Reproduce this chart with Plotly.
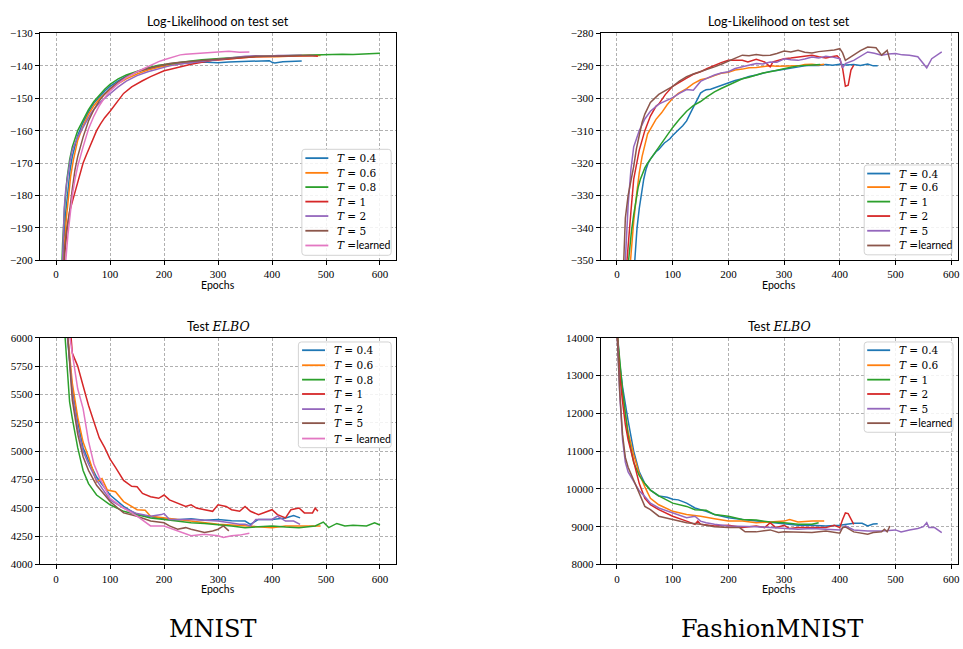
import plotly.graph_objects as go

# ---------------- DATA ----------------
mnist_labels = ["<i>T</i> = 0.4", "<i>T</i> = 0.6", "<i>T</i> = 0.8", "<i>T</i> = 1",
                "<i>T</i> = 2", "<i>T</i> = 5"]
fashion_labels = ["<i>T</i> = 0.4", "<i>T</i> = 0.6", "<i>T</i> = 1", "<i>T</i> = 2",
                  "<i>T</i> = 5"]
learned_a = "<i>T</i> =<span style='font-family:Lato'>learned</span>"
learned_b = "<i>T</i> = <span style='font-family:Lato'>learned</span>"
colors = ["#1f77b4", "#ff7f0e", "#2ca02c", "#d62728", "#9467bd", "#8c564b", "#e377c2"]

x_ticks = [0, 100, 200, 300, 400, 500, 600]
ll_mnist_ticks = [-200, -190, -180, -170, -160, -150, -140, -130]
ll_fashion_ticks = [-350, -340, -330, -320, -310, -300, -290, -280]
elbo_mnist_ticks = [4000, 4250, 4500, 4750, 5000, 5250, 5500, 5750, 6000]
elbo_fashion_ticks = [8000, 9000, 10000, 11000, 12000, 13000, 14000]

# MNIST log-likelihood
ll_m_x_04 = [10,14,18,22,26,30,40,50,60,70,80,90,100,115,130,150,170,190,210,230,250,270,290,300,320,340,360,380,395,400,405,420,440,455]
ll_m_y_04 = [-215,-195,-185,-178,-172,-168,-161.5,-157.5,-154.2,-151.5,-149.5,-147.8,-146.3,-144.6,-143.2,-141.8,-140.9,-140.1,-139.6,-139.2,-139,-138.8,-138.9,-139,-138.8,-138.7,-138.5,-138.6,-138.4,-138.9,-139.1,-138.7,-138.6,-138.5]
ll_m_x_06 = [11,15,19,23,27,32,40,50,60,70,80,90,100,115,130,150,170,190,210,230,250,270,290,310,330,350,370,390,410,430,450,470,490]
ll_m_y_06 = [-215,-197,-187,-180,-174,-169,-163,-158.5,-155,-152.3,-150.2,-148.7,-147.3,-145.5,-144,-142.5,-141.3,-140.4,-139.8,-139.2,-138.8,-138.5,-138.2,-137.9,-137.6,-137.4,-137.2,-137.1,-137.2,-137,-136.9,-136.9,-136.8]
ll_m_x_08 = [8,12,16,20,25,30,40,50,60,70,80,90,100,115,130,150,170,190,210,230,250,270,290,310,330,350,370,390,410,430,450,470,490,510,530,550,570,590,600]
ll_m_y_08 = [-215,-195,-183,-175,-169,-165,-160,-156.5,-153.5,-151,-149,-147.2,-145.7,-144,-142.8,-141.6,-140.6,-139.8,-139.3,-138.8,-138.5,-138.1,-137.8,-137.6,-137.4,-137.2,-137.1,-137,-136.9,-136.8,-136.7,-136.6,-136.5,-136.6,-136.4,-136.5,-136.3,-136.2,-136.1]
ll_m_x_1 = [12,16,20,25,30,35,42,50,56,62,68,75,82,90,100,112,125,140,150,160,175,190,200,210,220,230,240,250,270,290,310,330,350,370,390,410,430,450,470,485]
ll_m_y_1 = [-215,-198,-191,-185,-182,-179,-175,-170,-167.5,-165,-162.5,-160,-158,-156,-154,-151.2,-148.5,-146.5,-145.5,-144.6,-143.3,-142.2,-141.5,-141.1,-140.7,-140.1,-139.7,-139.5,-138.9,-138.3,-138,-137.6,-137.4,-137.2,-137.1,-137,-137.1,-137,-136.8,-137]
ll_m_x_2 = [9,12,15,18,22,26,30,40,50,60,65,70,80,90,100,115,130,150,170,190,210,230,250,270,290,310,330,350,370,390,410,430,455]
ll_m_y_2 = [-215,-195,-184,-178,-173,-169,-166,-162,-159,-156,-154.5,-153.5,-151.5,-150,-148.5,-146.5,-144.7,-143,-141.8,-140.8,-140,-139.4,-139,-138.5,-138,-137.6,-137.3,-137,-136.9,-137,-136.8,-136.7,-136.7]
ll_m_x_5 = [12,16,20,25,30,35,40,50,60,70,80,90,100,115,130,150,170,190,210,230,250,270,290,310,330,350,370,390,410,430,450,480]
ll_m_y_5 = [-215,-196,-190,-185,-178,-172,-168,-162,-157,-153.5,-150.8,-148.7,-147,-145,-143.4,-141.8,-140.8,-140,-139.3,-138.9,-138.6,-138.3,-138,-137.7,-137.4,-137.2,-137,-137,-136.9,-136.9,-136.8,-136.8]
ll_m_x_l = [14,18,22,26,30,35,40,50,60,70,80,90,100,115,130,150,170,190,200,210,220,230,240,260,280,300,320,340,358]
ll_m_y_l = [-215,-200,-192,-185,-180,-175,-171,-165,-159.5,-155.5,-152.3,-149.8,-147.8,-145.5,-143.6,-141.8,-140.2,-138.7,-138.1,-137.6,-137.2,-136.6,-136.4,-136.2,-135.9,-135.7,-135.5,-135.8,-135.7]

# FashionMNIST log-likelihood
ll_f_x_04 = [30,33,36,40,44,48,52,56,60,65,70,75,80,85,90,95,100,105,110,118,125,132,140,145,150,155,160,168,175,187,200,212,225,237,250,262,275,287,300,312,325,337,350,362,375,387,400,412,425,437,450,460,468]
ll_f_y_04 = [-355,-347,-340,-334,-329,-325,-322,-320,-318.8,-317.5,-316.5,-315.8,-314.8,-313.8,-313.2,-312.5,-311.5,-310.8,-309.8,-308.5,-307,-304.5,-301.8,-300,-298.4,-297.8,-297.4,-297.2,-296.8,-296.1,-295.3,-294.5,-294,-293.3,-292.8,-292.2,-291.7,-291.4,-291,-290.6,-290.3,-290,-289.8,-289.9,-289.6,-289.8,-289.5,-289.7,-289.6,-289.9,-289.4,-290,-290]
ll_f_x_06 = [22,24,30,35,40,45,50,55,60,65,70,80,90,100,110,125,137,150,162,175,187,200,212,225,237,250,262,275,287,300,312,325,337,350,362,372]
ll_f_y_06 = [-355,-350,-338,-330,-323,-318,-314,-311,-309.5,-308,-306.5,-304.5,-302,-300,-298.5,-297,-295.5,-294.3,-293.8,-293,-292.3,-292,-291.3,-291,-290.6,-290.5,-290.2,-290,-290.1,-290,-289.9,-290,-289.6,-289.5,-289.7,-289.5]
ll_f_x_1 = [18,22,26,30,34,38,42,46,50,55,60,67,75,82,90,100,112,125,137,150,162,175,187,200,212,225,237,250,262,275,287,300,312,325,337,350,365]
ll_f_y_1 = [-355,-347,-341,-336,-331,-327.5,-325,-323,-321.5,-320,-318.8,-317,-315,-313.2,-311.3,-309,-306.5,-304,-302.3,-301,-299.5,-298,-297,-296,-295,-294,-293.5,-292.8,-292.2,-291.8,-291.3,-290.8,-290.4,-290,-289.9,-289.8,-289.6]
ll_f_x_2 = [16,18,25,30,40,50,60,70,75,87,100,112,125,137,150,162,175,187,200,212,225,235,250,265,275,280,290,300,312,325,337,350,362,375,385,395,400,405,410,415,420,425]
ll_f_y_2 = [-360,-350,-335,-325,-316,-310,-305.5,-302.5,-301.8,-298.8,-296.3,-295,-293.8,-292.6,-291.8,-290.8,-289.8,-289,-288.3,-288.2,-288.3,-288.8,-288,-288.8,-290.3,-288.8,-288.3,-287.8,-287.6,-287.3,-287.1,-286.7,-287.2,-287.6,-287.2,-286.9,-287.8,-290.8,-296.3,-296,-291.3,-289.8]
ll_f_x_5 = [13,15,20,25,30,40,50,60,75,87,100,112,125,137,150,162,175,187,200,212,225,237,250,262,275,287,300,312,325,337,350,362,375,387,400,405,410,425,437,450,462,475,487,500,512,525,540,550,556,565,575,583]
ll_f_y_5 = [-360,-350,-333,-322,-315,-310,-306.4,-304,-301.8,-300.8,-299.8,-298.5,-297.3,-297.5,-294.8,-293.8,-292.8,-292.2,-291.8,-290.8,-290.3,-289.8,-289.3,-289.4,-288.8,-288.9,-287.8,-288.1,-288.3,-287.9,-287.3,-287.6,-287,-287.3,-287.8,-290.6,-289.3,-288.3,-287,-285.7,-286.1,-286.7,-286.3,-286.2,-286.6,-286.7,-287.2,-289.3,-290.6,-287.8,-286.6,-285.7]
ll_f_x_l = [10,12,15,20,25,30,35,40,45,50,60,75,87,100,112,125,137,150,162,175,187,200,212,225,237,250,262,275,287,300,312,325,337,350,362,375,390,400,405,410,418,425,437,450,465,475,485,490]
ll_f_y_l = [-360,-350,-337,-330,-326,-321,-315.5,-311,-307.5,-304.9,-301.3,-298.8,-297.6,-296.3,-294.7,-293.3,-292.5,-291.8,-291,-290.3,-289.5,-288.6,-287.6,-286.7,-286.9,-286.5,-286.8,-286.7,-286.2,-285.4,-285.7,-285.2,-285.8,-286,-285.6,-285.4,-285.1,-284.7,-286,-288.3,-287.4,-286.7,-285.3,-284.2,-284.4,-286.7,-285.2,-288.3]

# MNIST test ELBO
el_m_x_04 = [20,30,40,50,60,75,100,125,150,175,200,225,250,275,300,325,350,360,375,400,425,440,452]
el_m_y_04 = [6050,5548,5260,5030,4915,4771,4613,4512,4440,4420,4403,4395,4403,4390,4397,4385,4383,4354,4397,4397,4411,4431,4411]
el_m_x_06 = [21,30,40,50,60,75,85,95,110,125,150,165,175,200,225,250,275,300,325,350,375,400,425,450,470,490]
el_m_y_06 = [6050,5600,5300,5080,4950,4728,4757,4656,4642,4555,4483,4478,4426,4411,4395,4383,4370,4354,4348,4340,4335,4325,4340,4340,4335,4340]
el_m_x_08 = [16,25,30,40,50,60,75,100,125,150,175,200,225,250,275,300,325,350,375,400,425,450,480,495,505,520,535,550,575,590,600]
el_m_y_08 = [6050,5433,5289,5030,4829,4713,4613,4527,4469,4440,4411,4397,4380,4368,4362,4354,4340,4325,4335,4340,4330,4325,4340,4374,4325,4362,4340,4345,4340,4368,4348]
el_m_x_1 = [27,30,35,40,50,60,70,80,90,100,110,125,140,150,160,175,190,200,210,225,240,250,260,275,290,300,315,325,340,350,360,375,390,400,410,425,435,450,460,475,480,485]
el_m_y_1 = [6050,5865,5807,5750,5577,5404,5260,5116,5030,4929,4857,4742,4690,4685,4627,4598,4584,4613,4570,4541,4512,4527,4498,4483,4469,4527,4512,4483,4469,4512,4469,4440,4469,4483,4440,4411,4483,4498,4455,4455,4498,4469]
el_m_x_2 = [21,30,40,50,60,75,100,125,150,175,195,200,210,250,300,340,350,360,370,400,410,425,440,452]
el_m_y_2 = [6050,5500,5200,5000,4886,4742,4570,4498,4449,4426,4440,4449,4397,4397,4383,4354,4354,4340,4397,4397,4426,4383,4383,4354]
el_m_x_5 = [21,30,40,50,60,75,100,125,150,175,200,210,225,240,250,275,290,300,310,320]
el_m_y_5 = [6050,5450,5150,4950,4830,4699,4555,4455,4426,4383,4368,4340,4311,4325,4311,4282,4296,4311,4340,4296]
el_m_x_l = [24,30,35,40,50,55,60,70,80,100,125,150,175,200,225,250,275,300,310,325,340,358]
el_m_y_l = [6050,5850,5700,5550,5375,5232,5088,4886,4771,4584,4498,4426,4340,4340,4296,4253,4267,4253,4239,4253,4259,4276]

# FashionMNIST test ELBO
el_f_x_04 = [0,5,10,15,20,30,40,50,60,75,90,100,110,125,140,150,160,175,190,200,225,250,275,300,325,350,375,400,425,440,450,460,468]
el_f_y_04 = [14200,13300,12700,12200,11800,11000,10450,10141,9968,9813,9779,9727,9710,9623,9494,9450,9407,9321,9261,9235,9191,9148,9105,9062,9036,9036,9019,9036,9088,9088,9019,9071,9079]
el_f_x_06 = [0,5,10,20,30,40,50,60,75,100,125,150,175,200,225,250,275,300,310,325,350,372]
el_f_y_06 = [14200,13200,12500,11500,10900,10400,10055,9753,9580,9407,9321,9278,9209,9148,9148,9105,9122,9148,9191,9122,9148,9148]
el_f_x_1 = [0,5,10,20,25,30,40,50,60,75,100,125,140,150,160,175,200,225,250,275,300,325,350,362]
el_f_y_1 = [14200,13300,12600,11400,11000,10700,10350,10141,9968,9813,9623,9537,9450,9433,9433,9321,9278,9191,9174,9122,9105,9062,9062,9105]
el_f_x_2 = [0,5,10,15,20,25,30,40,50,60,75,100,125,140,145,150,175,200,225,250,265,275,285,300,310,325,350,375,390,400,405,410,415,420,425]
el_f_y_2 = [14200,13000,12300,11700,11300,11000,10659,10141,9753,9580,9450,9278,9148,9062,9148,9062,9019,9036,8976,9019,8976,9105,8976,9036,8950,8976,8976,8976,9036,8976,9191,9364,9347,9191,9062]
el_f_x_5 = [0,5,10,15,20,30,40,50,60,75,100,125,140,150,160,175,200,225,250,275,300,325,350,375,400,410,425,450,475,500,510,525,540,550,556,560,570,583]
el_f_y_5 = [14200,12500,11300,10700,10450,10200,9950,9796,9623,9494,9364,9235,9278,9148,9105,9062,9019,9019,9001,8976,8950,8932,8950,8932,8915,9019,8915,8889,8889,8915,8863,8915,8950,9001,9105,8976,8976,8846]
el_f_x_l = [0,5,10,15,20,30,40,50,60,75,100,125,150,175,200,220,230,250,275,290,300,325,350,375,400,405,410,425,450,460,475,480,485,490]
el_f_y_l = [14200,12558,11436,10832,10573,10227,9882,9537,9450,9278,9191,9105,9062,9001,8976,8976,8863,8863,8915,8846,8863,8863,8846,8889,8829,8976,8993,8863,8803,8846,8863,8932,8863,9019]

# ---------------- FIGURE ----------------
W, H = 963, 649
SERIF = "DejaVu Serif"
TICKSERIF = "Liberation Serif"
SANS = "Lato"


def px_x(v):
    return v / W


def px_y(v):
    return 1 - v / H


panels = [
    ("x", "y", [
        (ll_m_x_04, ll_m_y_04, mnist_labels[0], colors[0]),
        (ll_m_x_06, ll_m_y_06, mnist_labels[1], colors[1]),
        (ll_m_x_08, ll_m_y_08, mnist_labels[2], colors[2]),
        (ll_m_x_1, ll_m_y_1, mnist_labels[3], colors[3]),
        (ll_m_x_2, ll_m_y_2, mnist_labels[4], colors[4]),
        (ll_m_x_5, ll_m_y_5, mnist_labels[5], colors[5]),
        (ll_m_x_l, ll_m_y_l, learned_a, colors[6]),
    ]),
    ("x2", "y2", [
        (ll_f_x_04, ll_f_y_04, fashion_labels[0], colors[0]),
        (ll_f_x_06, ll_f_y_06, fashion_labels[1], colors[1]),
        (ll_f_x_1, ll_f_y_1, fashion_labels[2], colors[2]),
        (ll_f_x_2, ll_f_y_2, fashion_labels[3], colors[3]),
        (ll_f_x_5, ll_f_y_5, fashion_labels[4], colors[4]),
        (ll_f_x_l, ll_f_y_l, learned_a, colors[5]),
    ]),
    ("x3", "y3", [
        (el_m_x_04, el_m_y_04, mnist_labels[0], colors[0]),
        (el_m_x_06, el_m_y_06, mnist_labels[1], colors[1]),
        (el_m_x_08, el_m_y_08, mnist_labels[2], colors[2]),
        (el_m_x_1, el_m_y_1, mnist_labels[3], colors[3]),
        (el_m_x_2, el_m_y_2, mnist_labels[4], colors[4]),
        (el_m_x_5, el_m_y_5, mnist_labels[5], colors[5]),
        (el_m_x_l, el_m_y_l, learned_b, colors[6]),
    ]),
    ("x4", "y4", [
        (el_f_x_04, el_f_y_04, fashion_labels[0], colors[0]),
        (el_f_x_06, el_f_y_06, fashion_labels[1], colors[1]),
        (el_f_x_1, el_f_y_1, fashion_labels[2], colors[2]),
        (el_f_x_2, el_f_y_2, fashion_labels[3], colors[3]),
        (el_f_x_5, el_f_y_5, fashion_labels[4], colors[4]),
        (el_f_x_l, el_f_y_l, learned_a, colors[5]),
    ]),
]

fig = go.Figure()
for xa, ya, series in panels:
    for xs, ys, name, col in series:
        fig.add_trace(go.Scatter(x=xs, y=ys, name=name, mode="lines",
                                 line=dict(color=col, width=1.5),
                                 xaxis=xa, yaxis=ya, showlegend=False))

# axes boxes in window pixels: left, right, top, bottom
boxes = {
    "1": (40, 397, 28, 259),
    "2": (602, 960, 28, 259),
    "3": (40, 397, 338, 569),
    "4": (602, 960, 338, 569),
}
yranges = {"1": [-200, -130], "2": [-350, -280], "3": [4000, 6000], "4": [8000, 14000]}
xranges = {"1": [-30, 630], "2": [-29.15, 612.15], "3": [-30, 630], "4": [-29.15, 612.15]}
yticks = {"1": ll_mnist_ticks, "2": ll_fashion_ticks, "3": elbo_mnist_ticks, "4": elbo_fashion_ticks}

axis_common = dict(showgrid=True, gridcolor="#b0b0b0", griddash="3px,2px", gridwidth=0.8,
                   showline=True, linecolor="black", linewidth=1, mirror=True,
                   ticks="outside", ticklen=4, tickcolor="black", tickwidth=1,
                   tickfont=dict(family=TICKSERIF, size=11, color="black"), zeroline=False,
                   ticklabeloverflow="allow")

layout = {}
for k, (l, r, t, b) in boxes.items():
    xname = "xaxis" if k == "1" else f"xaxis{k}"
    yname = "yaxis" if k == "1" else f"yaxis{k}"
    xid = "x" if k == "1" else f"x{k}"
    yid = "y" if k == "1" else f"y{k}"
    layout[xname] = dict(domain=[px_x(l), px_x(r)], range=xranges[k], anchor=yid,
                         tickmode="array", tickvals=x_ticks, **axis_common)
    layout[yname] = dict(domain=[px_y(b), px_y(t)], range=yranges[k], anchor=xid,
                         tickmode="array", tickvals=yticks[k], tickformat="d", **axis_common)

# ---- hand-built legends (box, swatch, text), in window pixels ----
legends = [
    ((302.5, 392, 146, 254), 306, 329, 336, [155, 170, 184.5, 199.3, 214, 229, 244], 0),
    ((866, 954, 162, 253.5), 869, 892, 899, [170.7, 184.5, 199.3, 214, 229, 244], 1),
    ((299, 392, 342.3, 450), 302.7, 325.7, 332.7, [350.7, 366, 380.7, 395.3, 410.7, 425, 440.7], 2),
    ((866, 955, 342.3, 434.3), 869, 892, 899, [350.7, 366, 380.7, 395.3, 410.3, 425], 3),
]

shapes = []
annotations = []


def rounded_rect(l, r, t, b, rad=3):
    x = px_x
    y = px_y
    return (f"M {x(l + rad)},{y(t)} L {x(r - rad)},{y(t)} Q {x(r)},{y(t)} {x(r)},{y(t + rad)} "
            f"L {x(r)},{y(b - rad)} Q {x(r)},{y(b)} {x(r - rad)},{y(b)} "
            f"L {x(l + rad)},{y(b)} Q {x(l)},{y(b)} {x(l)},{y(b - rad)} "
            f"L {x(l)},{y(t + rad)} Q {x(l)},{y(t)} {x(l + rad)},{y(t)} Z")


for (l, r, t, b), sx0, sx1, tx, rows, pi in legends:
    shapes.append(dict(type="path", xref="paper", yref="paper", path=rounded_rect(l, r, t, b),
                       line=dict(color="#d3d3d3", width=1), fillcolor="rgba(255,255,255,0.85)",
                       layer="above"))
    series = panels[pi][2]
    for (xs, ys, name, col), ry in zip(series, rows):
        shapes.append(dict(type="line", xref="paper", yref="paper",
                           x0=px_x(sx0), x1=px_x(sx1), y0=px_y(ry), y1=px_y(ry),
                           line=dict(color=col, width=1.8), layer="above"))
        annotations.append(dict(text=name, x=px_x(tx), y=px_y(ry), xref="paper", yref="paper",
                                xanchor="left", yanchor="middle", showarrow=False,
                                font=dict(family=SERIF, size=10.5, color="black")))

titles = [("Log-Likelihood on test set", (40 + 397) / 2, 16),
          ("Log-Likelihood on test set", (602 + 960) / 2, 16),
          ("Test <span style='font-family:DejaVu Serif'><i>ELBO</i></span>", (40 + 397) / 2, 327),
          ("Test <span style='font-family:DejaVu Serif'><i>ELBO</i></span>", (602 + 960) / 2, 327)]
for txt, cx, cy in titles:
    annotations.append(dict(text=txt, x=px_x(cx), y=px_y(cy), xref="paper", yref="paper",
                            xanchor="center", yanchor="middle", showarrow=False,
                            font=dict(family=SANS, size=12.5, color="black")))
for cx, cy in [((40 + 397) / 2, 284), ((602 + 960) / 2, 284), ((40 + 397) / 2, 594), ((602 + 960) / 2, 594)]:
    annotations.append(dict(text="Epochs", x=px_x(cx), y=px_y(cy), xref="paper", yref="paper",
                            xanchor="center", yanchor="middle", showarrow=False,
                            font=dict(family=SANS, size=10.5, color="black")))
for txt, cx in [("MNIST", 213), ("FashionMNIST", 774)]:
    annotations.append(dict(text=txt, x=px_x(cx), y=px_y(635), xref="paper", yref="paper",
                            xanchor="center", yanchor="middle", showarrow=False,
                            font=dict(family=SERIF, size=24, color="black")))

fig.update_layout(width=W, height=H, margin=dict(l=0, r=0, t=0, b=0),
                  paper_bgcolor="white", plot_bgcolor="white",
                  shapes=shapes, annotations=annotations, **layout)

# remove the default 8px page margin so the figure fills the 963x649 window exactly
fig.write_html("out.html", config={"displayModeBar": False},
               post_script="document.body.style.margin='0px';document.body.style.overflow='hidden';")
